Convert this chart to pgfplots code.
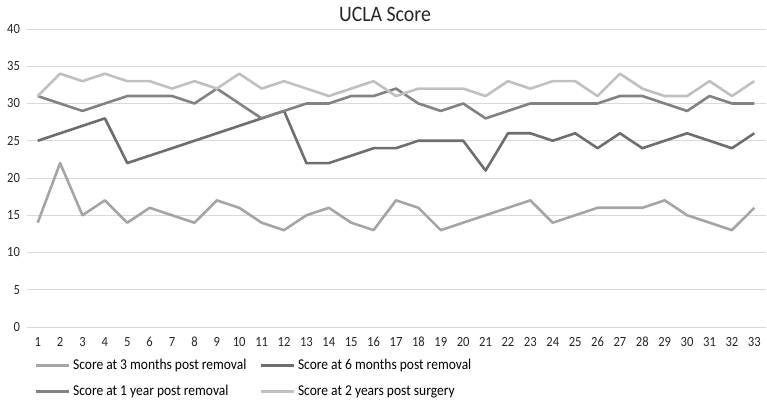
\documentclass[border=0pt]{standalone}
\usepackage{fontspec}
\setmainfont[FakeStretch=0.9]{Carlito}
\usepackage{pgfplots}
\pgfplotsset{compat=1.18}
\usepackage{pgfplotstable}
\definecolor{cA}{HTML}{A5A5A5}
\definecolor{cB}{HTML}{6E6E6E}
\definecolor{cC}{HTML}{828282}
\definecolor{cD}{HTML}{C0C0C0}
\definecolor{gridc}{HTML}{D9D9D9}
\pgfplotstableread{
x m3 m6 y1 y2
1 14 25 31 31
2 22 26 30 34
3 15 27 29 33
4 17 28 30 34
5 14 22 31 33
6 16 23 31 33
7 15 24 31 32
8 14 25 30 33
9 17 26 32 32
10 16 27 30 34
11 14 28 28 32
12 13 29 29 33
13 15 22 30 32
14 16 22 30 31
15 14 23 31 32
16 13 24 31 33
17 17 24 32 31
18 16 25 30 32
19 13 25 29 32
20 14 25 30 32
21 15 21 28 31
22 16 26 29 33
23 17 26 30 32
24 14 25 30 33
25 15 26 30 33
26 16 24 30 31
27 16 26 31 34
28 16 24 31 32
29 17 25 30 31
30 15 26 29 31
31 14 25 31 33
32 13 24 30 31
33 16 26 30 33
}\data
\begin{document}
\begin{tikzpicture}
\useasboundingbox (-26.5pt,-76pt) rectangle (740.5pt,327pt);
\begin{axis}[
  scale only axis,
  width=739pt, height=298pt,
  xmin=0.5, xmax=33.5, ymin=0, ymax=40,
  xtick={1,...,33}, ytick={0,5,...,40},
  axis line style={draw=none},
  major tick length=0pt,
  ymajorgrids, grid style={gridc, line width=0.9pt},
  tick label style={font=\fontsize{14}{17}\selectfont, text=black!85},
  /pgf/number format/assume math mode=true,
  yticklabel style={xshift=-3pt},
  xticklabel style={anchor=center, yshift=-15pt},
  legend columns=2,
  legend style={draw=none, fill=none, at={(0,0)}, anchor=north west,
    inner sep=0pt, outer sep=0pt,
    xshift=8pt, yshift=-28pt, font=\fontsize{15}{18}\selectfont,
    nodes={inner sep=3pt, text height=11pt, text depth=3.5pt},
    row sep=5.5pt,
    /tikz/every even column/.append style={column sep=10pt}},
  legend image code/.code={\draw[#1] (0pt,0pt) -- (33pt,0pt);},
  legend cell align=left,
  every axis plot/.append style={line width=2.6pt, line join=round},
]
\addplot[cA] table[x=x,y=m3] {\data};
\addlegendentry{Score at 3 months post removal}
\addplot[cB] table[x=x,y=m6] {\data};
\addlegendentry{Score at 6 months post removal}
\addplot[cC] table[x=x,y=y1] {\data};
\addlegendentry{Score at 1 year post removal}
\addplot[cD] table[x=x,y=y2] {\data};
\addlegendentry{Score at 2 years post surgery}
\end{axis}
\node[font=\fontsize{22}{26}\selectfont, text=black!85] at (358.5pt,313pt) {UCLA Score};
\end{tikzpicture}
\end{document}
